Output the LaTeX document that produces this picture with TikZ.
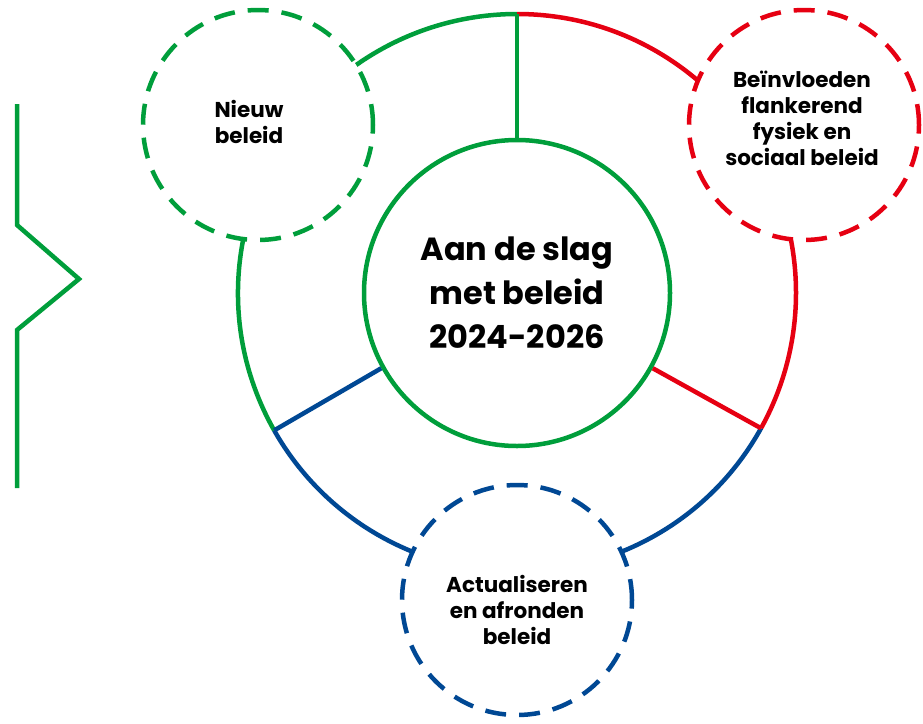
\documentclass[tikz,border=0pt]{standalone}
\usepackage{fontspec}
\usetikzlibrary{calc}
\setmainfont{Poppins}[BoldFont=* Bold]
\definecolor{cgreen}{RGB}{0,158,59}
\definecolor{cred}{RGB}{230,0,18}
\definecolor{cblue}{RGB}{0,72,148}
\begin{document}
\begin{tikzpicture}[x=1pt,y=-1pt,
  ring/.style={line width=4.5pt},
  dcirc/.style={circle, draw, fill=white, line width=4.5pt, dash pattern=on 21pt off 13pt, minimum size=230pt, inner sep=0pt},
  ctext/.style={font=\bfseries\fontsize{21.5}{26}\selectfont, align=center},
  core/.style={circle, draw=cgreen, fill=white, line width=4.5pt, minimum size=306pt, inner sep=0pt, align=center, font=\bfseries\fontsize{32}{44}\selectfont}]
\useasboundingbox (0,0) rectangle (923,723);
\coordinate (C) at (517,293);
% outer ring arcs (y axis points down, so screen angles are negated)
\coordinate (tg) at ($(C)+(-90:279)$);
\coordinate (tr) at ($(C)+(29:279)$);
\coordinate (tb) at ($(C)+(150.5:279)$);
\draw[ring, cgreen] (tb) arc[start angle=150.5, end angle=270, radius=279];
\draw[ring, cred] (tg) arc[start angle=-90, end angle=29, radius=279];
\draw[ring, cblue] (tr) arc[start angle=29, end angle=150.5, radius=279];
% core
\node[core] (core) at (C) {Aan de slag\\met beleid\\2024-2026};
\draw[ring, cgreen] (core.90) -- (tg);
\draw[ring, cred] (core.-29) -- (tr);
\draw[ring, cblue] (core.209.5) -- (tb);
% dashed circles
\node[dcirc, draw=cgreen] (nieuw) at (258,125) {};
\node[ctext] (nt) at (249,122) {Nieuw\\beleid};
\node[dcirc, draw=cred] (flank) at (804,125) {};
\node[ctext] (ft) at (802,118) {Beïnvloeden\\flankerend\\fysiek en\\sociaal beleid};
\node[dcirc, draw=cblue] (act) at (517,600) {};
\node[ctext] (at) at (517,610) {Actualiseren\\en afronden\\beleid};
% zigzag
\coordinate (z1) at (17,104);
\coordinate (z2) at (17,225);
\coordinate (z3) at (79,279);
\coordinate (z4) at (17,330);
\coordinate (z5) at (17,488);
\draw[line width=4.5pt, cgreen] (z1) -- (z2) -- (z3) -- (z4) -- (z5);
\end{tikzpicture}
\end{document}
